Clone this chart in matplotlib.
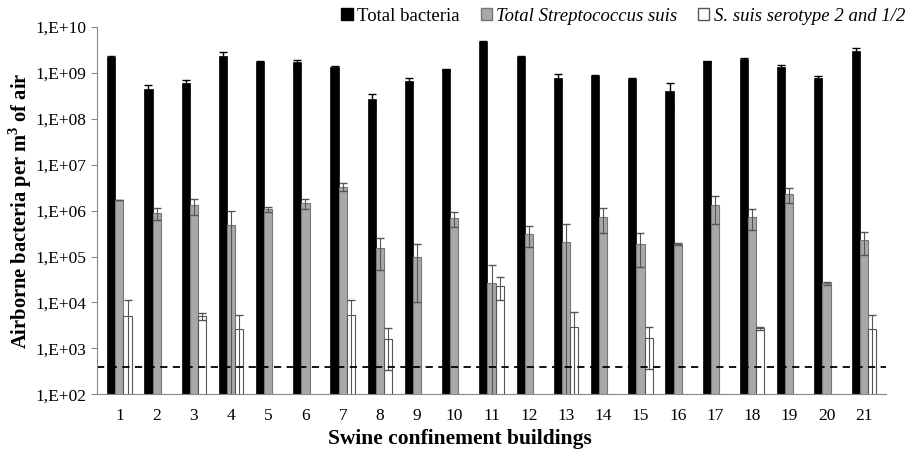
import numpy as np
import matplotlib
matplotlib.use("Agg")
import matplotlib.pyplot as plt
from matplotlib.patches import Patch
from matplotlib.ticker import FixedLocator, FuncFormatter

plt.rcParams['font.family'] = ['Liberation Serif', 'DejaVu Serif']

buildings = [str(i) for i in range(1, 22)]

total_bact = [2.2e9, 4.4e8, 5.9e8, 2.3e9, 1.75e9, 1.7e9, 1.36e9, 2.7e8, 6.8e8, 1.2e9,
              4.8e9, 2.25e9, 7.6e8, 8.7e8, 7.4e8, 4.1e8, 1.78e9, 2.0e9, 1.38e9, 7.7e8, 3.0e9]
total_bact_err = [0.2e9, 1.0e8, 1.1e8, 0.5e9, 0.05e9, 0.2e9, 0.05e9, 0.8e8, 0.8e8, 0.05e9,
                  0.1e9, 0.05e9, 2.0e8, 0.3e8, 0.2e8, 2.0e8, 0.05e9, 0.15e9, 0.12e9, 0.7e8, 0.5e9]

strep = [1.7e6, 8.9e5, 1.3e6, 4.9e5, 1.07e6, 1.45e6, 3.3e6, 1.5e5, 1.0e5, 6.8e5,
         2.7e4, 3.1e5, 2.1e5, 7.4e5, 1.9e5, 1.87e5, 1.3e6, 7.4e5, 2.3e6, 2.6e4, 2.3e5]
strep_err = [0.0, 2.6e5, 5.0e5, 5.1e5, 1.3e5, 3.5e5, 6.0e5, 1.0e5, 9.0e4, 2.3e5,
             3.8e4, 1.5e5, 2.9e5, 4.1e5, 1.3e5, 1.3e4, 8.0e5, 3.6e5, 8.0e5, 2.0e3, 1.2e5]

serotype = [5.0e3, np.nan, 5.0e3, 2.6e3, np.nan, np.nan, 5.3e3, 1.57e3, np.nan, np.nan,
            2.3e4, np.nan, 2.9e3, np.nan, 1.65e3, np.nan, np.nan, 2.7e3, np.nan, np.nan, 2.6e3]
serotype_err = [6.0e3, 0, 0.9e3, 2.7e3, 0, 0, 6.2e3, 1.23e3, 0, 0,
                1.2e4, 0, 3.4e3, 0, 1.3e3, 0, 0, 0.2e3, 0, 0, 2.8e3]

detection_limit = 400

fig = plt.figure(figsize=(9.07, 4.51), dpi=100)
ax = fig.add_axes([0.107, 0.126, 0.870, 0.814])

x = np.arange(len(buildings))
w = 0.22

ax.bar(x - w, total_bact, w, color='black', edgecolor='black', linewidth=0.5,
       yerr=total_bact_err, error_kw=dict(ecolor='black', capsize=3, elinewidth=1))
ax.bar(x, strep, w, color='#a8a8a8', edgecolor='#777777', linewidth=0.8,
       yerr=strep_err, error_kw=dict(ecolor='#555555', capsize=3, elinewidth=0.8))
ax.bar(x + w, serotype, w, color='white', edgecolor='#555555', linewidth=0.8,
       yerr=serotype_err, error_kw=dict(ecolor='#555555', capsize=3, elinewidth=0.8))

ax.axhline(detection_limit, color='black', linestyle=(0, (4, 3)), linewidth=1.3)

ax.set_yscale('log')
ax.set_ylim(1e2, 1e10)
ax.set_xlim(-0.6, len(buildings) - 0.4)
ax.yaxis.set_major_locator(FixedLocator([10.0 ** k for k in range(2, 11)]))
ax.yaxis.set_minor_locator(FixedLocator([]))
ax.yaxis.set_major_formatter(FuncFormatter(lambda v, p: "1,E+%02d" % int(round(np.log10(v)))))
ax.set_xticks(x)
ax.set_xticklabels(buildings)
ax.tick_params(axis='x', length=0, labelsize=12.5, pad=10)
ax.tick_params(axis='y', length=4, color='#888888', labelsize=12.5)

for s in ['top', 'right']:
    ax.spines[s].set_visible(False)
for s in ['left', 'bottom']:
    ax.spines[s].set_color('#888888')

ax.set_ylabel("Airborne bacteria per m$^\\mathregular{3}$ of air", fontsize=14.8, fontweight='bold')
ax.yaxis.set_label_coords(-0.08, 0.5)
ax.set_xlabel("Swine confinement buildings", fontsize=15.5, fontweight='bold')
ax.xaxis.set_label_coords(0.46, -0.095)

handles = [Patch(facecolor='black', edgecolor='black'),
           Patch(facecolor='#a8a8a8', edgecolor='#777777'),
           Patch(facecolor='white', edgecolor='#555555')]
labels = ["Total bacteria", "Total Streptococcus suis", "S. suis serotype 2 and 1/2"]
leg = fig.legend(handles, labels, loc='upper right', bbox_to_anchor=(1.017, 1.02), ncol=3,
                 frameon=False, fontsize=13.5, handlelength=0.6, handleheight=0.6,
                 handletextpad=0.25, columnspacing=1.1)
for t in leg.get_texts()[1:]:
    t.set_fontstyle('italic')

fig.savefig("out.png", dpi=100)
